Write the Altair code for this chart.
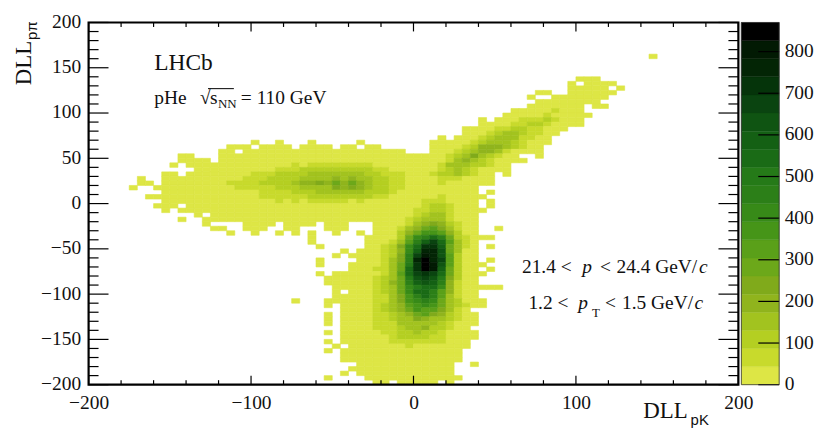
import altair as alt
import pandas as pd

# -----------------------------
# DATA
# bins are 5 x 5 wide, row 0 is the top one, levels are colour bands 0-19
# -----------------------------
x_edges = list(range(-200, 205, 5))
y_edges = list(range(200, -205, -5))

# occupied cells per row: row -> (first column, last column)
footprint = {
    7: [(69, 69)],
    12: [(60, 62)],
    13: [(59, 59), (61, 64)],
    14: [(59, 63), (65, 65)],
    15: [(55, 56), (59, 64)],
    16: [(54, 54), (57, 63)],
    17: [(55, 62)],
    18: [(54, 60), (62, 63)],
    19: [(52, 60)],
    20: [(51, 61)],
    21: [(48, 48), (50, 60)],
    22: [(48, 60)],
    23: [(46, 58)],
    24: [(46, 57)],
    25: [(43, 43), (45, 56)],
    26: [(20, 20), (23, 23), (27, 27), (33, 33), (42, 56)],
    27: [(17, 19), (21, 24), (26, 29), (31, 32), (34, 35), (42, 55)],
    28: [(16, 17), (19, 38), (42, 55)],
    29: [(11, 12), (16, 52), (55, 55)],
    30: [(11, 14), (16, 53)],
    31: [(10, 10), (12, 51)],
    32: [(13, 51)],
    33: [(9, 10), (12, 49), (51, 51)],
    34: [(6, 6), (9, 49)],
    35: [(6, 7), (9, 49)],
    36: [(5, 5), (8, 47)],
    37: [(9, 47), (49, 49)],
    38: [(7, 48)],
    39: [(9, 47), (49, 49)],
    40: [(8, 10), (12, 47), (49, 49)],
    41: [(9, 9), (11, 48)],
    42: [(13, 13), (15, 47)],
    43: [(11, 11), (14, 47)],
    44: [(14, 14), (19, 22), (24, 27), (29, 31), (35, 47)],
    45: [(15, 16), (19, 21), (24, 25), (29, 31), (35, 47), (50, 50)],
    46: [(17, 17), (20, 20), (23, 23), (25, 25), (27, 27), (30, 30), (33, 33), (35, 47)],
    47: [(27, 27), (34, 49)],
    48: [(27, 27), (34, 47)],
    49: [(28, 28), (34, 47), (49, 49)],
    50: [(31, 31), (33, 47)],
    51: [(30, 30), (32, 47)],
    52: [(28, 28), (33, 47), (49, 49)],
    53: [(28, 28), (32, 48)],
    54: [(32, 47), (49, 49)],
    55: [(28, 28), (30, 48)],
    56: [(29, 47)],
    57: [(29, 47)],
    58: [(30, 50)],
    59: [(30, 30), (32, 47)],
    60: [(30, 47)],
    61: [(25, 25), (29, 48)],
    62: [(29, 29), (31, 48)],
    63: [(31, 46)],
    64: [(29, 29), (31, 47)],
    65: [(29, 29), (31, 47)],
    66: [(29, 29), (31, 47)],
    67: [(31, 46)],
    68: [(29, 29), (31, 47)],
    69: [(31, 47)],
    70: [(29, 29), (31, 46)],
    71: [(30, 30), (32, 46)],
    72: [(29, 29), (31, 45)],
    73: [(31, 45)],
    74: [(31, 45)],
    75: [(33, 44), (47, 47)],
    76: [(32, 44)],
    77: [(31, 31), (33, 44)],
    78: [(29, 29), (34, 45)],
    79: [(35, 36), (38, 42), (44, 44)],
}

# horizontal band on the left, columns from 17
left_band = {
    31: [0, 0, 0, 0, 0, 0, 0, 0, 1, 0, 1, 1, 1, 1, 1, 1, 1, 1, 0, 0, 0, 0],
    32: [0, 0, 0, 0, 0, 0, 1, 1, 1, 2, 2, 2, 2, 2, 2, 2, 2, 2, 1, 1, 0, 0],
    33: [0, 0, 0, 1, 1, 1, 2, 2, 2, 2, 3, 3, 3, 3, 3, 3, 3, 2, 2, 1, 1, 1],
    34: [0, 0, 1, 1, 1, 2, 2, 2, 2, 3, 3, 3, 3, 4, 3, 4, 3, 3, 2, 2, 1, 1],
    35: [1, 1, 1, 1, 2, 2, 2, 2, 3, 4, 4, 5, 4, 6, 4, 6, 4, 3, 2, 2, 1, 1],
    36: [0, 1, 1, 1, 1, 1, 2, 2, 2, 3, 3, 3, 3, 5, 4, 5, 4, 3, 2, 2, 1, 1],
    37: [0, 0, 0, 0, 1, 1, 1, 1, 2, 2, 2, 3, 3, 3, 3, 3, 3, 2, 2, 2, 1, 0],
    38: [0, 0, 0, 0, 1, 1, 1, 1, 1, 1, 2, 2, 2, 2, 2, 2, 2, 2, 1, 1, 0, 0],
    39: [0, 0, 0, 0, 0, 0, 1, 0, 1, 0, 1, 1, 1, 1, 1, 0, 1, 0, 0, 0, 0, 0],
}

# diagonal band on the upper right: row -> (first column, levels)
diagonal_band = {
    19: (57, [1]),
    20: (56, [1]),
    21: (53, [1, 1, 1, 2, 1]),
    22: (52, [1, 1, 2, 2, 1]),
    23: (50, [1, 1, 2, 2, 1, 1]),
    24: (49, [1, 2, 3, 3, 2, 1, 1]),
    25: (48, [1, 2, 3, 3, 3, 1, 1]),
    26: (47, [1, 2, 3, 3, 3, 2, 1]),
    27: (46, [1, 2, 4, 4, 4, 3, 2, 1]),
    28: (45, [1, 2, 3, 4, 4, 3, 1]),
    29: (44, [1, 2, 3, 5, 3, 2, 1]),
    30: (44, [1, 3, 4, 3, 2, 1]),
    31: (43, [1, 3, 3, 3, 2, 2, 1]),
    32: (43, [1, 2, 3, 2, 1]),
    33: (42, [1, 2, 2, 3, 2, 1]),
    34: (43, [1, 1, 1]),
    35: (43, [1]),
    39: (41, [1, 1, 1]),
}

# central peak, columns from 35
peak = {
    38: [0, 0, 0, 0, 0, 0, 0, 0, 1, 0, 0, 0],
    39: [0, 0, 0, 0, 0, 0, 1, 1, 1, 0, 0, 0],
    40: [0, 0, 0, 0, 0, 0, 1, 2, 2, 1, 0, 0],
    41: [0, 0, 0, 0, 0, 1, 1, 2, 2, 1, 0, 0],
    42: [0, 0, 0, 0, 0, 1, 2, 3, 3, 1, 0, 0],
    43: [0, 0, 0, 0, 1, 2, 3, 3, 3, 1, 0, 0],
    44: [0, 0, 0, 0, 1, 3, 4, 5, 4, 2, 1, 0],
    45: [0, 0, 0, 1, 3, 4, 6, 7, 5, 3, 1, 0],
    46: [0, 0, 0, 2, 4, 6, 8, 8, 7, 4, 2, 0],
    47: [0, 0, 0, 2, 6, 9, 10, 12, 10, 6, 2, 1],
    48: [0, 0, 1, 3, 7, 10, 13, 15, 12, 7, 3, 1],
    49: [0, 1, 2, 5, 9, 12, 16, 16, 13, 6, 3, 1],
    50: [0, 1, 2, 4, 9, 13, 17, 17, 14, 6, 3, 0],
    51: [0, 1, 2, 5, 10, 15, 18, 17, 14, 7, 2, 0],
    52: [0, 1, 3, 5, 10, 17, 19, 17, 15, 7, 2, 0],
    53: [0, 1, 3, 6, 11, 16, 19, 18, 14, 7, 2, 0],
    54: [1, 1, 3, 6, 12, 16, 19, 18, 13, 6, 2, 0],
    55: [0, 1, 3, 7, 12, 15, 16, 15, 12, 6, 2, 0],
    56: [1, 2, 3, 6, 11, 14, 15, 14, 11, 5, 2, 0],
    57: [1, 2, 4, 6, 10, 13, 14, 13, 10, 4, 1, 0],
    58: [1, 2, 3, 6, 9, 11, 12, 12, 9, 4, 1, 0],
    59: [1, 2, 3, 6, 9, 12, 12, 10, 7, 4, 1, 0],
    60: [1, 1, 3, 5, 8, 10, 12, 10, 7, 3, 1, 0],
    61: [1, 1, 3, 5, 8, 9, 10, 9, 6, 3, 2, 0],
    62: [1, 2, 3, 4, 7, 8, 9, 8, 6, 3, 2, 1],
    63: [1, 2, 3, 4, 6, 8, 7, 7, 5, 3, 1, 0],
    64: [1, 1, 2, 3, 4, 6, 7, 5, 4, 2, 1, 0],
    65: [1, 1, 2, 3, 3, 5, 4, 3, 3, 2, 1, 0],
    66: [1, 1, 1, 3, 3, 3, 3, 3, 2, 1, 0, 0],
    67: [1, 1, 1, 2, 3, 3, 4, 2, 2, 1, 0, 0],
    68: [0, 1, 1, 2, 2, 3, 2, 2, 1, 0, 0, 0],
    69: [0, 0, 1, 2, 2, 2, 2, 1, 1, 0, 0, 0],
    70: [0, 0, 1, 1, 1, 1, 1, 1, 1, 0, 0, 0],
    71: [0, 0, 0, 0, 1, 0, 0, 0, 0, 0, 0, 0],
}

palette = [
    "#dde645", "#c8da2c", "#b4cf22", "#a2c31f", "#90b41d", "#80aa1b", "#6ca81a",
    "#5aa019", "#469518", "#378a18", "#2c7f18", "#257a18", "#1a6b16", "#146014",
    "#0f5412", "#0a4410", "#05340a", "#032505", "#021a03", "#000000",
]
levels = list(range(20))
band_low = [0, 43.5, 87, 130.5, 174, 217.5, 261, 304.5, 348, 391.5,
            435, 478.5, 522, 565.5, 609, 652.5, 696, 739.5, 783, 826.5]
band_high = band_low[1:] + [870]

x_major = [-200, -100, 0, 100, 200]
x_minor = [-180, -160, -140, -120, -80, -60, -40, -20, 20, 40, 60, 80,
           120, 140, 160, 180]
y_major = [-200, -150, -100, -50, 0, 50, 100, 150, 200]
y_minor = [-190, -180, -170, -160, -140, -130, -120, -110, -90, -80, -70, -60,
           -40, -30, -20, -10, 10, 20, 30, 40, 60, 70, 80, 90,
           110, 120, 130, 140, 160, 170, 180, 190]
bar_ticks = [0, 100, 200, 300, 400, 500, 600, 700, 800]

W = 653
H = 364
SERIF = "Liberation Serif"
SANS = "Liberation Sans"
INK = "#000000"

# -----------------------------
# BUILD CELLS
# -----------------------------
cells = {}
for row, spans in footprint.items():
    for first, last in spans:
        for col in range(first, last + 1):
            cells[(col, row)] = 0

for row, vals in left_band.items():
    for k, v in enumerate(vals):
        if v:
            cells[(17 + k, row)] = v

for row, (first, vals) in diagonal_band.items():
    for k, v in enumerate(vals):
        if v:
            cells[(first + k, row)] = v

for row, vals in peak.items():
    for k, v in enumerate(vals):
        if v:
            cells[(35 + k, row)] = v

df = pd.DataFrame(
    [
        {
            "x0": x_edges[c],
            "x1": x_edges[c + 1],
            "y0": y_edges[r + 1],
            "y1": y_edges[r],
            "level": lev,
        }
        for (c, r), lev in cells.items()
    ]
)

x_scale = alt.Scale(domain=[-200, 200], nice=False, zero=False)
y_scale = alt.Scale(domain=[-200, 200], nice=False, zero=False)
bar_y = alt.Scale(domain=[0, 870], nice=False, zero=False)
color_scale = alt.Scale(domain=levels, range=palette)
one_row = alt.Data(values=[{"a": 1}])

x_axis = alt.Axis(
    values=x_major, grid=False, ticks=False, domain=False,
    labelPadding=9, labelOverlap=False, labelFlush=False, title=None,
)
y_axis = alt.Axis(
    values=y_major, grid=False, ticks=False, domain=False, labelOffset=-1,
    labelPadding=8, labelOverlap=False, labelFlush=False, title=None,
)
bar_axis = alt.Axis(
    orient="right", values=bar_ticks, grid=False, ticks=False, domain=False,
    labelOffset=-1, labelPadding=5, labelOverlap=False, labelFlush=False, title=None,
)


# -----------------------------
# HELPERS
# -----------------------------
def label(text, x, y, size=19.5, font=SERIF, style="normal", angle=0):
    return alt.Chart(one_row).mark_text(
        text=text,
        font=font,
        fontSize=size,
        fontStyle=style,
        angle=angle,
        align="left",
        baseline="alphabetic",
        color="#111111",
    ).encode(x=alt.value(x), y=alt.value(y))


def y_ticks(values, start, end):
    return alt.Chart(pd.DataFrame({"v": values})).mark_rule(
        color=INK, strokeWidth=1.2
    ).encode(
        y=alt.Y("v:Q", scale=y_scale, axis=y_axis),
        x=alt.value(start),
        x2=alt.value(end),
    )


def x_ticks(values, start, end):
    return alt.Chart(pd.DataFrame({"v": values})).mark_rule(
        color=INK, strokeWidth=1.2
    ).encode(
        x=alt.X("v:Q", scale=x_scale, axis=x_axis),
        y=alt.value(start),
        y2=alt.value(end),
    )


def frame(width, size, color):
    return alt.Chart(one_row).mark_rect(
        fillOpacity=0, stroke=color, strokeWidth=size
    ).encode(
        x=alt.value(0),
        x2=alt.value(width),
        y=alt.value(0),
        y2=alt.value(H),
    )


# -----------------------------
# MAIN PANEL
# -----------------------------
heat = alt.Chart(df).mark_rect(strokeWidth=0.6).encode(
    x=alt.X("x0:Q", scale=x_scale, axis=x_axis),
    x2="x1:Q",
    y=alt.Y("y0:Q", scale=y_scale, axis=y_axis),
    y2="y1:Q",
    color=alt.Color("level:O", scale=color_scale, legend=None),
    stroke=alt.Stroke("level:O", scale=color_scale, legend=None),
)

tick_layers = [
    y_ticks(y_major, 0, 20),
    y_ticks(y_minor, 0, 10),
    y_ticks(y_major, W - 20, W),
    y_ticks(y_minor, W - 10, W),
    x_ticks(x_major, H - 9, H),
    x_ticks(x_minor, H - 4.5, H),
    x_ticks(x_major, 0, 9),
    x_ticks(x_minor, 0, 4.5),
]

text_layers = [
    label("LHCb", 66, 47.5, size=23.5),
    label("pHe", 66, 82),
    label("√", 112, 82),
    label("s", 122, 82),
    label("NN", 130, 86, size=13),
    label("= 110 GeV", 153, 82),
    label("21.4 <", 435.5, 252),
    label("p", 496, 252, style="italic"),
    label("<", 514, 252),
    label("24.4 GeV/", 530.5, 252),
    label("c", 613.5, 252, style="italic"),
    label("1.2 <", 442, 287.5),
    label("p", 492, 287.5, style="italic"),
    label("T", 506, 296, size=13),
    label("<", 519, 287.5),
    label("1.5 GeV/", 536, 287.5),
    label("c", 609, 287.5, style="italic"),
    label("DLL", 557.5, 397, size=23),
    label("pK", 605, 405, size=15, font=SANS),
    label("DLL", -58, 63, size=23, angle=270),
    label("pπ", -52, 17.5, size=15, font=SANS, angle=270),
]

root_bar = alt.Chart(one_row).mark_rule(color=INK, strokeWidth=1).encode(
    x=alt.value(120), x2=alt.value(146), y=alt.value(66.5)
)

main = alt.layer(
    heat, *tick_layers, frame(W, 2.2, INK), root_bar, *text_layers
).properties(width=W, height=H)

# -----------------------------
# COLOUR BAR
# -----------------------------
bar_df = pd.DataFrame({"low": band_low, "high": band_high, "level": levels})

bar_rects = alt.Chart(bar_df).mark_rect(strokeWidth=0.4).encode(
    x=alt.value(0),
    x2=alt.value(38),
    y=alt.Y("low:Q", scale=bar_y, axis=bar_axis),
    y2="high:Q",
    color=alt.Color("level:O", scale=color_scale, legend=None),
    stroke=alt.Stroke("level:O", scale=color_scale, legend=None),
)

bar_tick_marks = alt.Chart(pd.DataFrame({"v": bar_ticks})).mark_rule(
    color=INK, strokeWidth=1.2
).encode(
    y=alt.Y("v:Q", scale=bar_y, axis=bar_axis),
    x=alt.value(17),
    x2=alt.value(38),
)

bar = alt.layer(bar_rects, bar_tick_marks, frame(38, 0.8, "#333333")).properties(
    width=38, height=H
)

chart = alt.hconcat(main, bar, spacing=3, bounds="flush").resolve_scale(
    color="independent", stroke="independent"
).properties(
    padding={"left": 5, "top": 2.5, "right": 0, "bottom": 0}
).configure_view(stroke=None).configure_axis(
    labelFont=SERIF, labelFontSize=19.5, labelColor="#111111"
)

chart.save("out.html", embed_options={"renderer": "svg", "actions": False})
